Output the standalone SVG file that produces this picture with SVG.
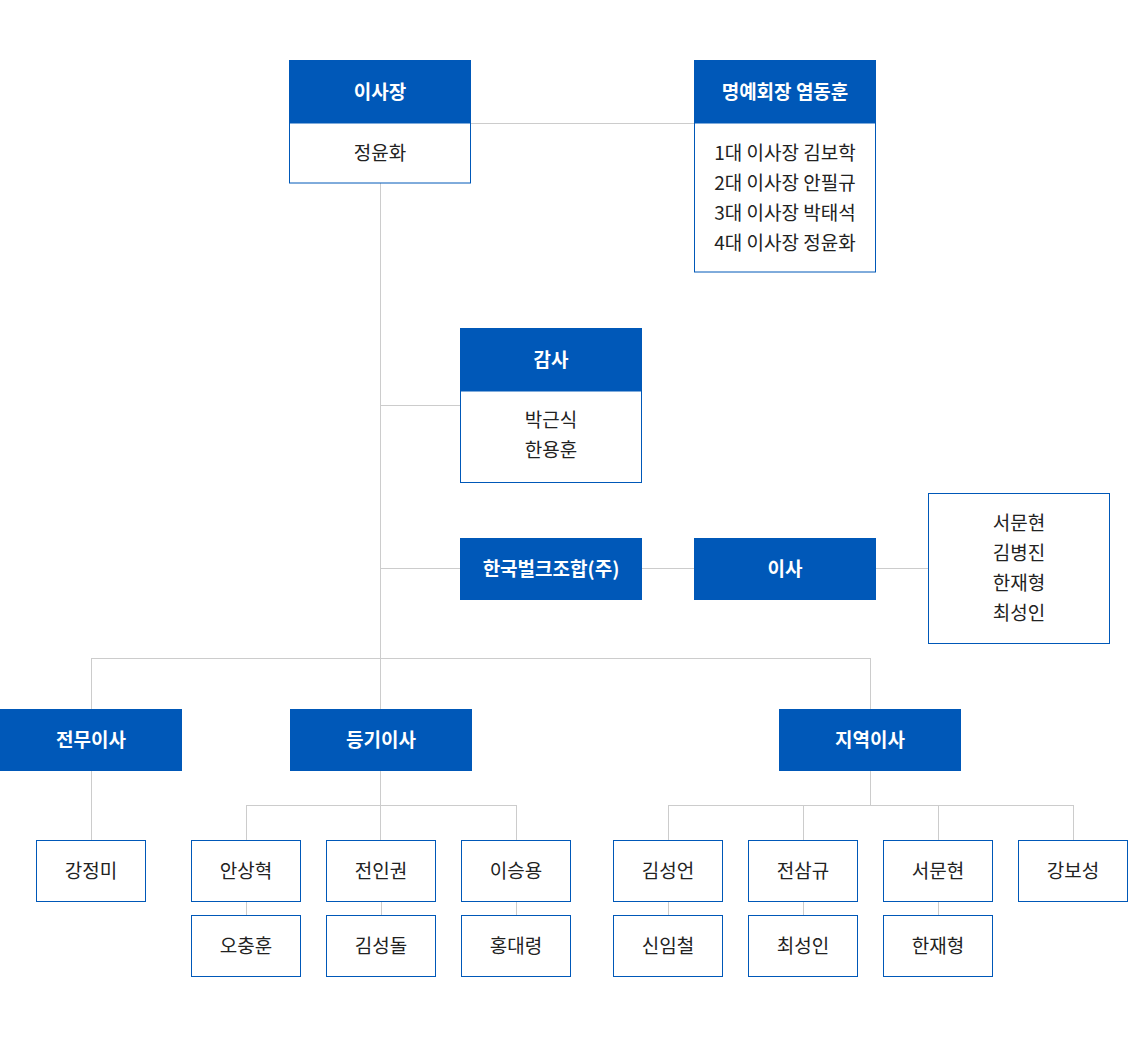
<svg xmlns="http://www.w3.org/2000/svg" width="1128" height="1038" viewBox="0 0 1128 1038">
<style>
.hd{fill:#0058b8}
.bd{fill:#fff;stroke:#0058b8;stroke-width:1}
.ht{font-family:"Noto Sans CJK KR","Noto Sans",sans-serif;font-size:19px;font-weight:700;fill:#fff;text-anchor:middle}
.bt{font-family:"Noto Sans CJK KR","Noto Sans",sans-serif;font-size:19px;font-weight:400;fill:#222;text-anchor:middle}
.cn line{stroke:#cccccc;stroke-width:1}
</style>
<rect width="1128" height="1038" fill="#fff"/>
<g class="cn" id="connectors">
<line x1="471" y1="123.5" x2="694" y2="123.5"/>
<line x1="380.5" y1="183" x2="380.5" y2="709"/>
<line x1="380" y1="405.5" x2="460" y2="405.5"/>
<line x1="380" y1="568.5" x2="460" y2="568.5"/>
<line x1="641" y1="568.5" x2="694" y2="568.5"/>
<line x1="875" y1="568.5" x2="928" y2="568.5"/>
<line x1="91.5" y1="658.5" x2="870.5" y2="658.5"/>
<line x1="91.5" y1="658" x2="91.5" y2="709"/>
<line x1="870.5" y1="658" x2="870.5" y2="709"/>
<line x1="91.5" y1="771" x2="91.5" y2="840"/>
<line x1="380.5" y1="771" x2="380.5" y2="840"/>
<line x1="246.5" y1="805.5" x2="516.5" y2="805.5"/>
<line x1="246.5" y1="805" x2="246.5" y2="840"/>
<line x1="516.5" y1="805" x2="516.5" y2="840"/>
<line x1="246.5" y1="901" x2="246.5" y2="915"/>
<line x1="381.5" y1="901" x2="381.5" y2="915"/>
<line x1="516.5" y1="901" x2="516.5" y2="915"/>
<line x1="870.5" y1="771" x2="870.5" y2="805"/>
<line x1="668.5" y1="805.5" x2="1073.5" y2="805.5"/>
<line x1="668.5" y1="805" x2="668.5" y2="840"/>
<line x1="803.5" y1="805" x2="803.5" y2="840"/>
<line x1="938.5" y1="805" x2="938.5" y2="840"/>
<line x1="1073.5" y1="805" x2="1073.5" y2="840"/>
<line x1="668.5" y1="901" x2="668.5" y2="915"/>
<line x1="803.5" y1="901" x2="803.5" y2="915"/>
<line x1="938.5" y1="901" x2="938.5" y2="915"/>
</g>
<g id="chairman">
<rect class="hd" x="289" y="60" width="182" height="63"/>
<rect class="bd" x="289.5" y="123" width="181" height="60"/>
<text class="ht" x="380" y="98.5">이사장</text>
<text class="bt" x="380" y="160">정윤화</text>
</g>
<g id="honorary">
<rect class="hd" x="694" y="60" width="182" height="63"/>
<rect class="bd" x="694.5" y="123" width="181" height="149"/>
<text class="ht" x="785" y="98.5">명예회장 염동훈</text>
<text class="bt" x="785" y="160">1대 이사장 김보학</text>
<text class="bt" x="785" y="189.5">2대 이사장 안필규</text>
<text class="bt" x="785" y="219.5">3대 이사장 박태석</text>
<text class="bt" x="785" y="249.5">4대 이사장 정윤화</text>
</g>
<g id="auditor">
<rect class="hd" x="460" y="328" width="182" height="63"/>
<rect class="bd" x="460.5" y="391" width="181" height="91.5"/>
<text class="ht" x="551" y="366.5">감사</text>
<text class="bt" x="551" y="427">박근식</text>
<text class="bt" x="551" y="457">한용훈</text>
</g>
<g id="bulk">
<rect class="hd" x="460" y="538" width="182" height="62"/>
<text class="ht" x="551" y="575.5">한국벌크조합(주)</text>
</g>
<g id="director">
<rect class="hd" x="694" y="538" width="182" height="62"/>
<text class="ht" x="785" y="575.5">이사</text>
</g>
<g id="director-names">
<rect class="bd" x="928.5" y="493.5" width="181" height="150"/>
<text class="bt" x="1019" y="530">서문현</text>
<text class="bt" x="1019" y="560">김병진</text>
<text class="bt" x="1019" y="590">한재형</text>
<text class="bt" x="1019" y="620">최성인</text>
</g>
<g id="executive">
<rect class="hd" x="0" y="709" width="182" height="62"/>
<text class="ht" x="91" y="746.5">전무이사</text>
</g>
<g id="registered">
<rect class="hd" x="290" y="709" width="182" height="62"/>
<text class="ht" x="381" y="746.5">등기이사</text>
</g>
<g id="regional">
<rect class="hd" x="779" y="709" width="182" height="62"/>
<text class="ht" x="870" y="746.5">지역이사</text>
</g>
<g id="n-kangjm"><rect class="bd" x="36.5" y="840.5" width="109" height="61"/><text class="bt" x="91" y="878">강정미</text></g>
<g id="n-ansh"><rect class="bd" x="191.5" y="840.5" width="109" height="61"/><text class="bt" x="246" y="878">안상혁</text></g>
<g id="n-jeonik"><rect class="bd" x="326.5" y="840.5" width="109" height="61"/><text class="bt" x="381" y="878">전인권</text></g>
<g id="n-leesy"><rect class="bd" x="461.5" y="840.5" width="109" height="61"/><text class="bt" x="516" y="878">이승용</text></g>
<g id="n-ohch"><rect class="bd" x="191.5" y="915.5" width="109" height="61"/><text class="bt" x="246" y="953">오충훈</text></g>
<g id="n-kimsd"><rect class="bd" x="326.5" y="915.5" width="109" height="61"/><text class="bt" x="381" y="953">김성돌</text></g>
<g id="n-hongdr"><rect class="bd" x="461.5" y="915.5" width="109" height="61"/><text class="bt" x="516" y="953">홍대령</text></g>
<g id="n-kimsu"><rect class="bd" x="613.5" y="840.5" width="109" height="61"/><text class="bt" x="668" y="878">김성언</text></g>
<g id="n-jeonsg"><rect class="bd" x="748.5" y="840.5" width="109" height="61"/><text class="bt" x="803" y="878">전삼규</text></g>
<g id="n-seomh"><rect class="bd" x="883.5" y="840.5" width="109" height="61"/><text class="bt" x="938" y="878">서문현</text></g>
<g id="n-kangbs"><rect class="bd" x="1018.5" y="840.5" width="109" height="61"/><text class="bt" x="1073" y="878">강보성</text></g>
<g id="n-shinic"><rect class="bd" x="613.5" y="915.5" width="109" height="61"/><text class="bt" x="668" y="953">신임철</text></g>
<g id="n-choisi"><rect class="bd" x="748.5" y="915.5" width="109" height="61"/><text class="bt" x="803" y="953">최성인</text></g>
<g id="n-hanjh"><rect class="bd" x="883.5" y="915.5" width="109" height="61"/><text class="bt" x="938" y="953">한재형</text></g>
</svg>
